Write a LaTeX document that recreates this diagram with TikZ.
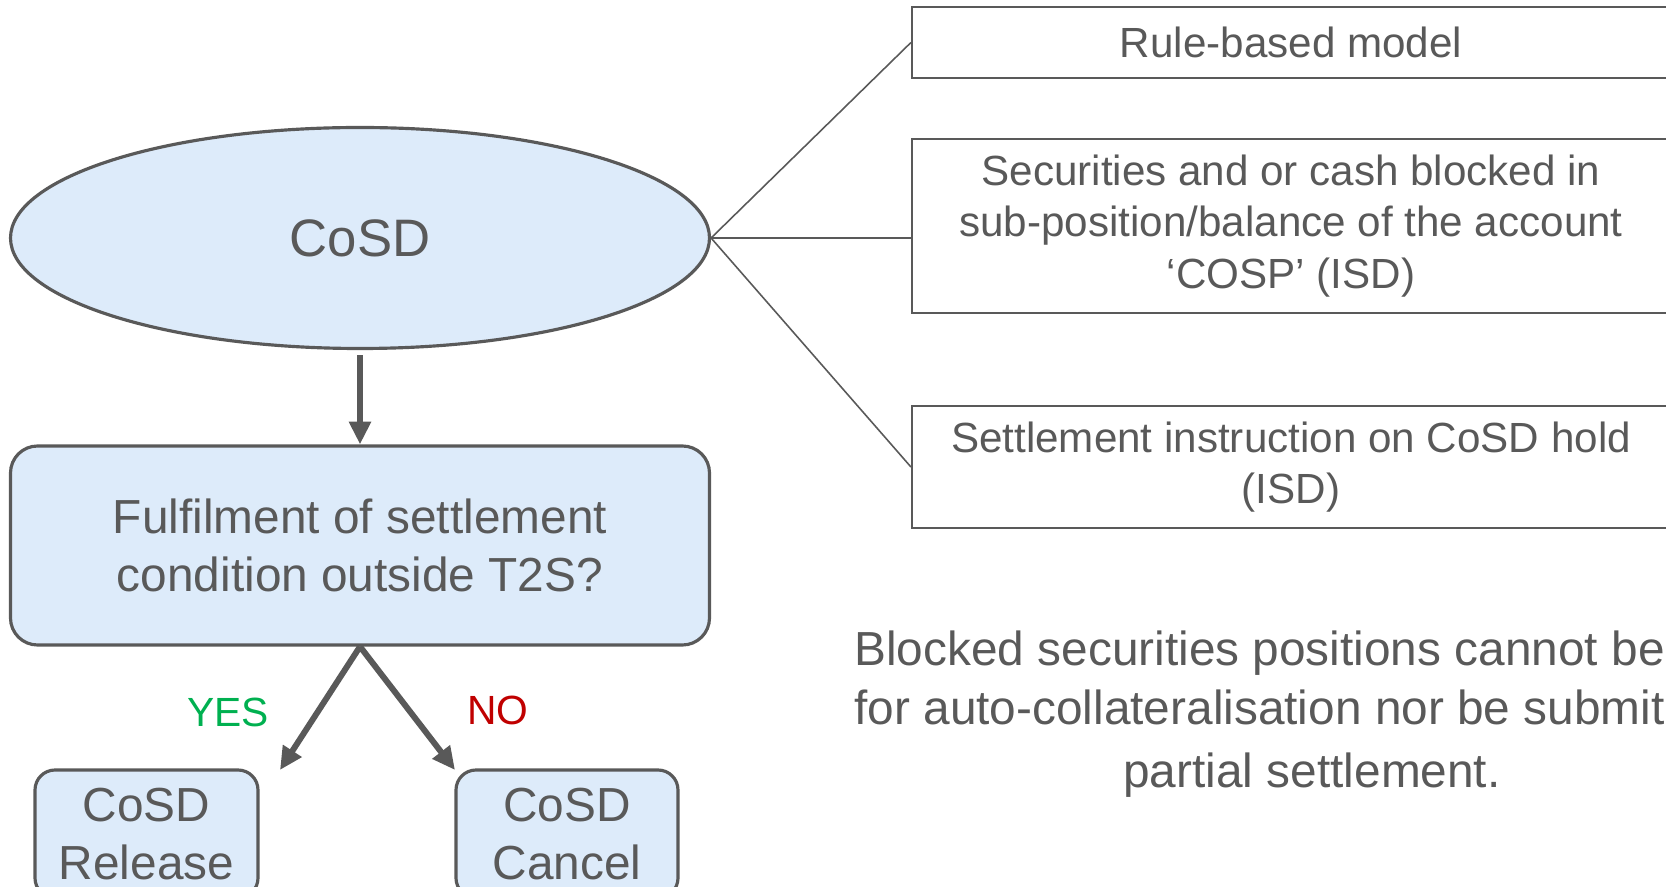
\documentclass[tikz,border=0pt]{standalone}
\usepackage{fontspec}
\setmainfont{Liberation Sans}
\usepackage{tikz}
\usetikzlibrary{arrows.meta, shapes.geometric, positioning}
\definecolor{txtgray}{HTML}{595959}
\definecolor{boxblue}{HTML}{DDEBFA}
\definecolor{yesgreen}{HTML}{00B050}
\definecolor{nored}{HTML}{C00000}
\tikzset{>={Triangle[length=6.5pt,width=6pt]}}
\tikzset{
  blob/.style={draw=txtgray, fill=boxblue, line width=0.9pt, text=txtgray, align=center, inner sep=0pt},
  fact/.style={draw=txtgray, line width=0.6pt, text=txtgray, align=center, inner sep=0pt,
    minimum width=7.58cm, font=\fontsize{12}{14.6}\selectfont},
  flow/.style={->, draw=txtgray, line width=1.7pt},
  big/.style={font=\fontsize{13.6}{16.3}\selectfont}
}

\begin{document}
\begin{tikzpicture}[thick]
	\useasboundingbox (0,0) rectangle (16.66,-8.87);
	\clip (0,0) rectangle (16.66,-8.87);
	\node[blob, ellipse, minimum width=6.99cm, minimum height=2.21cm, font=\fontsize{15}{18}\selectfont] (cosd) at (3.60,-2.38) {CoSD};
	\node[blob, big, rounded corners=0.27cm, minimum width=6.99cm, minimum height=1.99cm] (cond) at (3.60,-5.455) {Fulfilment of settlement\\condition outside T2S?};
	\node[blob, big, rounded corners=0.2cm, minimum width=2.23cm, minimum height=1.28cm] (release) at (1.465,-8.34) {CoSD\\Release};
	\node[blob, big, rounded corners=0.2cm, minimum width=2.22cm, minimum height=1.28cm] (cancel) at (5.67,-8.34) {CoSD\\Cancel};
	\coordinate (yestip) at (2.80,-7.70);
	\coordinate (notip) at (4.55,-7.70);
	\draw[flow, shorten <=0.05cm] (cosd.south) -- (cond.north);
	\draw[flow] (cond.south) -- (yestip);
	\draw[flow] (cond.south) -- (notip);
	\node[text=yesgreen, font=\fontsize{11.6}{14}\selectfont] (yes) at (2.28,-7.12) {YES};
	\node[text=nored, font=\fontsize{11.6}{14}\selectfont] (no) at (4.98,-7.10) {NO};
	% facts on the right
	\node[fact, minimum height=0.71cm] (rule) at (12.91,-0.425) {Rule-based model};
	\node[fact, minimum height=1.74cm] (blocked) at (12.91,-2.26) {Securities and or cash blocked in\\sub-position/balance of the account\\‘COSP’ (ISD)};
	\node[fact, minimum height=1.22cm] (hold) at (12.91,-4.67) {Settlement instruction on CoSD hold\\(ISD)};
	\draw[txtgray, line width=0.45pt] (cosd.east) -- (rule.west);
	\draw[txtgray, line width=0.45pt] (cosd.east) -- (cosd.east -| blocked.west);
	\draw[txtgray, line width=0.45pt] (cosd.east) -- (hold.west);
	\node[text=txtgray, align=left, inner sep=0pt, anchor=north west, font=\fontsize{13.6}{17}\selectfont] (note) at (8.53,-6.29) {Blocked securities positions cannot be\\for auto-collateralisation nor be submit};
	\node[text=txtgray, inner sep=0pt, anchor=base, font=\fontsize{13.6}{17}\selectfont] (noteend) at (13.12,-7.87) {partial settlement.};
\end{tikzpicture}
\end{document}
